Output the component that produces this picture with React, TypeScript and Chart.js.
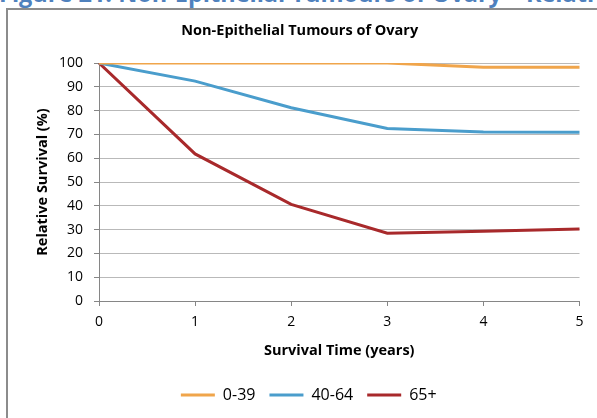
import React, { useEffect, useRef } from "react";
import { Chart, registerables } from "chart.js";

Chart.register(...registerables);

// Survival time in years since diagnosis
const years = ["0", "1", "2", "3", "4", "5"];

// Relative survival (%) by age group at diagnosis
const age0to39 = [100, 100, 100, 100, 98.2, 98.2];
const age40to64 = [100, 92.4, 81.2, 72.5, 71.0, 70.9];
const age65plus = [100, 61.8, 40.6, 28.5, 29.3, 30.2];

const seriesLabels = ["0-39", "40-64", "65+"];
const seriesColors = ["#F0A54B", "#4A9DCC", "#A8292B"];

const FONT = "'Open Sans', 'DejaVu Sans', sans-serif";

// Nudges the legend row a little to the right of the canvas centre
const legendShift = {
  id: "legendShift",
  afterLayout(chart: any) {
    const lg = chart.legend;
    if (lg) {
      lg.left += 9;
      lg.right += 9;
    }
  },
};

export default function App() {
  const canvasRef = useRef<HTMLCanvasElement | null>(null);

  useEffect(() => {
    const canvas = canvasRef.current;
    if (!canvas) return;
    const values = [age0to39, age40to64, age65plus];
    const chart = new Chart(canvas, {
      type: "line",
      data: {
        labels: years,
        datasets: values.map((v, i) => ({
          label: seriesLabels[i],
          data: v,
          borderColor: seriesColors[i],
          backgroundColor: seriesColors[i],
          borderWidth: 3,
          pointRadius: 0,
          pointStyle: "line",
          tension: 0,
          fill: false,
        })),
      },
      plugins: [legendShift],
      options: {
        responsive: false,
        animation: false,
        devicePixelRatio: 1,
        layout: { padding: { left: 20, right: 17.5, top: 0, bottom: 5 } },
        plugins: {
          title: {
            display: true,
            text: "Non-Epithelial Tumours of Ovary",
            color: "#000",
            font: { family: FONT, size: 14.5, weight: "bold" },
            padding: { top: 22.3, bottom: 23.3 },
          },
          legend: {
            position: "bottom",
            labels: {
              usePointStyle: true,
              pointStyle: "line",
              pointStyleWidth: 34,
              boxHeight: 3,
              padding: 14,
              color: "#000",
              font: { family: FONT, size: 16 },
            },
          },
          tooltip: { enabled: false },
        },
        scales: {
          x: {
            type: "category",
            offset: false,
            afterFit: (scale: any) => {
              scale.height = 72;
            },
            grid: {
              drawOnChartArea: false,
              drawTicks: true,
              tickLength: 5,
              tickColor: "#868686",
            },
            border: { display: true, color: "#868686", width: 1 },
            ticks: {
              color: "#000",
              padding: 8,
              maxRotation: 0,
              font: { family: FONT, size: 14 },
            },
            title: {
              display: true,
              text: "Survival Time (years)",
              color: "#000",
              font: { family: FONT, size: 14.5, weight: "bold" },
              padding: { top: 4, bottom: 13.3 },
            },
          },
          y: {
            min: 0,
            max: 100,
            afterFit: (scale: any) => {
              scale.width = 79;
            },
            grid: {
              color: "#B9B9B9",
              lineWidth: 1,
              drawTicks: true,
              tickLength: 5,
              tickColor: "#868686",
            },
            border: { display: true, color: "#868686", width: 1 },
            ticks: {
              stepSize: 10,
              color: "#000",
              padding: 11,
              font: { family: FONT, size: 14 },
            },
            title: {
              display: true,
              text: "Relative Survival (%)",
              color: "#000",
              font: { family: FONT, size: 14.5, weight: "bold" },
              padding: { top: 14.3, bottom: 0 },
            },
          },
        },
      },
    });
    return () => chart.destroy();
  }, []);

  return (
    <div
      style={{
        position: "fixed",
        left: 0,
        top: 0,
        width: 597,
        height: 418,
        overflow: "hidden",
        background: "#fff",
      }}
    >
      <div
        style={{
          position: "absolute",
          left: -1,
          top: -23,
          whiteSpace: "nowrap",
          fontFamily: FONT,
          fontWeight: "bold",
          fontSize: 23.5,
          color: "#4F81BD",
        }}
      >
        Figure 21: Non-Epithelial Tumours of Ovary – Relative Survival
      </div>
      <div
        style={{
          position: "absolute",
          left: 6,
          top: 8,
          width: 700,
          height: 500,
          borderLeft: "2px solid #8C8C8C",
          borderTop: "2px solid #8C8C8C",
          boxSizing: "border-box",
        }}
      />
      <canvas
        ref={canvasRef}
        width={597}
        height={418}
        style={{ position: "absolute", left: 0, top: 0 }}
      />
    </div>
  );
}
